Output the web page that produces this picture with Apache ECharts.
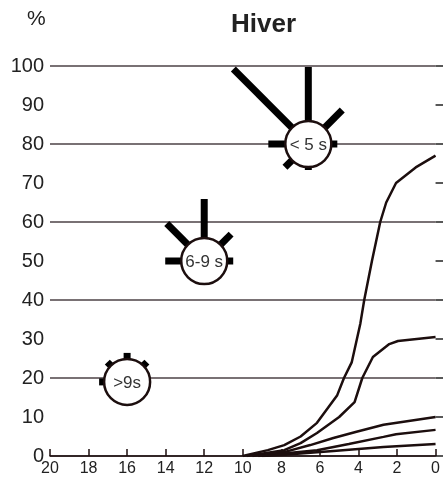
<!DOCTYPE html>
<html style="height: 100%">

<head>
	<meta charset="utf-8">
</head>

<body style="height: 100%; margin: 0; background: #fff">
	<div id="container" style="width: 443px; height: 477px"></div>
	<script type="text/javascript" src="https://cdn.jsdelivr.net/npm/echarts@6/dist/echarts.min.js"></script>
	<script type="text/javascript">
		// courbes (x = durée, y = %)
		let curveA = [[10, 0], [8.7, 1.5], [7.85, 2.8], [7.0, 5], [6.15, 8.5], [5.1, 15.6], [4.75, 20], [4.35, 24],
			[3.9, 34], [3.7, 40], [3.3, 50], [2.87, 60], [2.56, 65], [2.05, 70], [1.03, 74], [0, 77]];
		let curveB = [[9.8, 0], [7.85, 1.5], [7.0, 3.3], [6.15, 5.9], [5.0, 10], [4.2, 13.8], [3.8, 20],
			[3.25, 25.4], [2.4, 28.7], [1.95, 29.5], [0, 30.5]];
		let curveC = [[9.5, 0], [7.85, 1], [6.5, 2.8], [5.3, 4.6], [4.1, 6.2], [2.7, 8], [0, 10]];
		let curveD = [[9.2, 0], [6.15, 1.5], [4.5, 3.1], [2.7, 4.9], [2.05, 5.6], [0, 6.7]];
		let curveE = [[9.0, 0], [7.85, 0.3], [5.3, 1.3], [2.7, 2.3], [0, 3.1]];

		// symboles : position, libellé, rayons N, NE, E, SE, S, SW, W, NW
		let glyphPos = [[6.6, 80], [12, 50], [16, 19]];
		let glyphLabels = ['< 5 s', '6-9 s', '>9s'];
		let glyphRays = [
			[54, 25, 6, 0, 3, 10, 17, 83],
			[39, 15, 6, 0, 0, 0, 16, 30],
			[6, 5, 0, 0, 0, 0, 5, 5]
		];

		let xTicks = { min: 0, max: 20, interval: 2 };
		let yTicks = { min: 0, max: 100, interval: 10 };

		let dom = document.getElementById("container");
		let myChart = echarts.init(dom);

		let ink = '#1c0e0e';
		let rayAngles = [-90, -45, 0, 45, 90, 135, 180, -135];

		function renderGlyph(params, api) {
			let c = api.coord([api.value(0), api.value(1)]);
			let r = 23;
			let rays = glyphRays[params.dataIndex];
			let children = [];
			rays.forEach(function (len, i) {
				if (!len) return;
				let a = rayAngles[i] * Math.PI / 180;
				let cx = Math.cos(a), cy = Math.sin(a);
				children.push({
					type: 'line',
					shape: {
						x1: c[0] + cx * (r - 1), y1: c[1] + cy * (r - 1),
						x2: c[0] + cx * (r + len), y2: c[1] + cy * (r + len)
					},
					style: { stroke: '#000', lineWidth: 7, lineCap: 'butt' }
				});
			});
			children.push({
				type: 'circle',
				shape: { cx: c[0], cy: c[1], r: r },
				style: { fill: '#fff', stroke: ink, lineWidth: 2.5 }
			});
			children.push({
				type: 'text',
				style: {
					x: c[0], y: c[1] + 1, text: glyphLabels[params.dataIndex],
					align: 'center', verticalAlign: 'middle',
					fontSize: 17, fontFamily: 'Liberation Sans', fill: '#333'
				}
			});
			return { type: 'group', children: children };
		}

		function lineSeries(data) {
			return {
				type: 'line',
				data: data,
				showSymbol: false,
				symbol: 'none',
				lineStyle: { color: ink, width: 2.5 },
				z: 3,
				animation: false
			};
		}

		let option = {
			animation: false,
			textStyle: { fontFamily: 'Liberation Sans' },
			title: [
				{
					text: 'Hiver', left: 231, top: 12, padding: 0,
					textStyle: { fontSize: 26, fontWeight: 'bold', color: '#222', fontFamily: 'Liberation Sans' }
				},
				{
					text: '%', left: 27, top: 9, padding: 0,
					textStyle: { fontSize: 21, fontWeight: 'normal', color: '#222', fontFamily: 'Liberation Sans' }
				}
			],
			grid: { left: 50, right: 3, top: 66, bottom: 21, containLabel: false },
			xAxis: {
				type: 'value',
				inverse: true,
				min: xTicks.min,
				max: xTicks.max,
				interval: xTicks.interval,
				axisLine: { lineStyle: { color: ink, width: 1.5 } },
				axisTick: { inside: true, length: 7, lineStyle: { color: ink, width: 1.5 } },
				axisLabel: { fontSize: 16, margin: 5, color: '#222' },
				splitLine: { show: false }
			},
			yAxis: [
				{
					type: 'value',
					min: yTicks.min,
					max: yTicks.max,
					interval: yTicks.interval,
					axisLine: { show: false },
					axisTick: { show: true, inside: true, length: 8, lineStyle: { color: '#222', width: 1.5 } },
					axisLabel: { fontSize: 20, margin: 6, color: '#222', padding: [0, 0, 6, 0] },
					splitLine: { show: false }
				},
				{
					type: 'value',
					min: yTicks.min,
					max: yTicks.max,
					interval: yTicks.interval * 2,
					axisLine: { show: false },
					axisTick: { show: false },
					axisLabel: { show: false },
					splitLine: { show: true, lineStyle: { color: '#4d4246', width: 1.5 } }
				}
			],
			series: [
				lineSeries(curveA),
				lineSeries(curveB),
				lineSeries(curveC),
				lineSeries(curveD),
				lineSeries(curveE),
				{
					type: 'custom',
					data: glyphPos,
					renderItem: renderGlyph,
					z: 5,
					animation: false
				}
			]
		};

		myChart.setOption(option);
	</script>
</body>
</html>
